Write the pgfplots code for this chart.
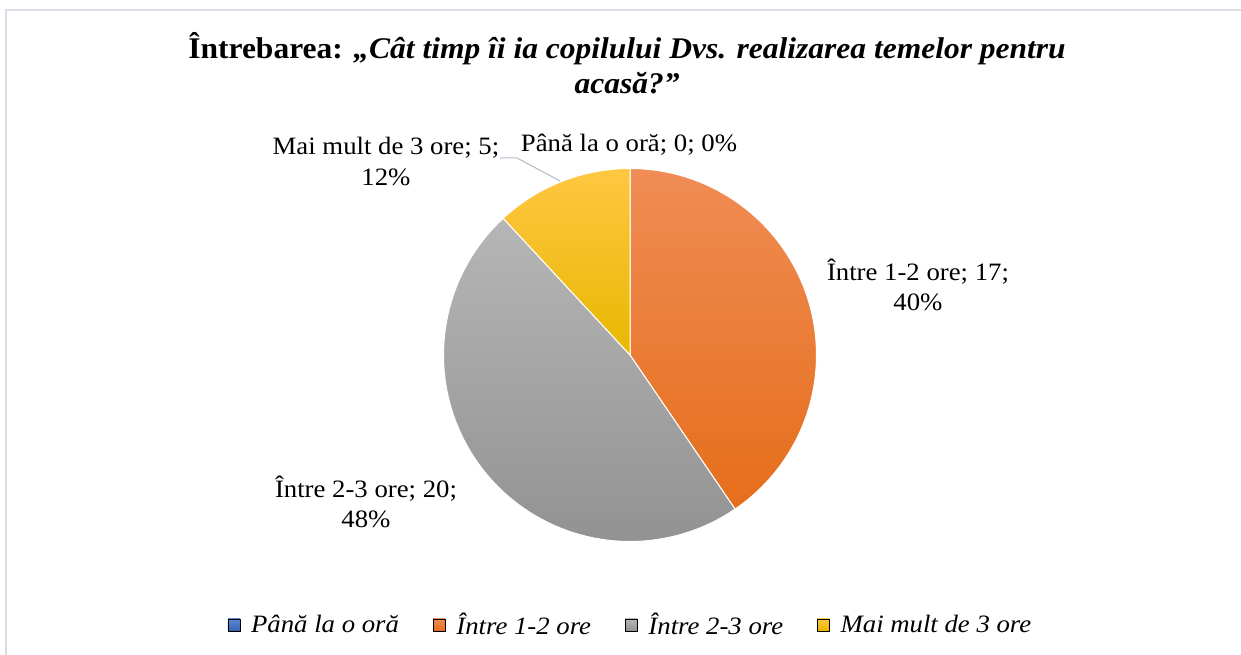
\documentclass[border=0pt]{standalone}
\usepackage{pgfplots}
\usepackage{pgfplotstable}
\pgfplotsset{compat=1.18}
\usepackage{fontspec}
\setmainfont{Liberation Serif}
\newfontfamily\lblfont[FakeStretch=1.07]{Liberation Serif}
\newfontfamily\ttlfont[FakeStretch=1.05]{Liberation Serif}
\definecolor{borderc}{HTML}{D9DDE8}
\definecolor{leaderc}{HTML}{B0BCCC}
\definecolor{blueT}{HTML}{5B87D2}\definecolor{blueM}{HTML}{4472C4}\definecolor{blueB}{HTML}{3A63AE}
\definecolor{orT}{HTML}{F08C55}\definecolor{orM}{HTML}{F37E2E}\definecolor{orB}{HTML}{E56E1A}
\definecolor{grT}{HTML}{B6B6B6}\definecolor{grM}{HTML}{A6A6A6}\definecolor{grB}{HTML}{929292}
\definecolor{yeT}{HTML}{FFC742}\definecolor{yeM}{HTML}{FFC000}\definecolor{yeB}{HTML}{E8B700}
\pgfplotstableread{
idx value
0 0
1 17
2 20
3 5
}\piedata
\pgfplotstablegetelem{0}{value}\of\piedata\let\va\pgfplotsretval
\pgfplotstablegetelem{1}{value}\of\piedata\let\vb\pgfplotsretval
\pgfplotstablegetelem{2}{value}\of\piedata\let\vc\pgfplotsretval
\pgfplotstablegetelem{3}{value}\of\piedata\let\vd\pgfplotsretval
\pgfmathsetmacro\tot{\va+\vb+\vc+\vd}
\pgfmathsetmacro\aA{90}
\pgfmathsetmacro\aB{\aA-360*\va/\tot}
\pgfmathsetmacro\aC{\aB-360*\vb/\tot}
\pgfmathsetmacro\aD{\aC-360*\vc/\tot}
\pgfmathsetmacro\aE{\aD-360*\vd/\tot}
\def\cx{630}\def\cy{-355}\def\R{186.5}
\newcommand\lblsize{\lblfont\fontsize{25}{29}\selectfont}
\begin{document}
\begin{tikzpicture}
\begin{axis}[
  scale only axis, width=1241pt, height=655pt,
  xmin=0, xmax=1241, ymin=-655, ymax=0,
  hide axis, clip=false,
  legend columns=4,
  legend style={at={(axis cs:631,-625)}, anchor=center, draw=none, fill=none,
    font=\lblsize\itshape,
    /tikz/every odd column/.append style={column sep=8pt},
    /tikz/every even column/.append style={column sep=31pt},
    nodes={inner xsep=3pt}},
]
\coordinate (BL) at (axis cs:0,-655);
\coordinate (TR) at (axis cs:1241,0);
% slices
\addplot[forget plot, draw=white, line width=1pt, top color=orT, middle color=orM, bottom color=orB,
  domain=\aC:\aB, samples=80, variable=\t]
  ({\cx+\R*cos(\t)},{\cy+\R*sin(\t)}) -- (axis cs:\cx,\cy) -- cycle;
\addplot[forget plot, draw=white, line width=1pt, top color=grT, middle color=grM, bottom color=grB,
  domain=\aD:\aC, samples=80, variable=\t]
  ({\cx+\R*cos(\t)},{\cy+\R*sin(\t)}) -- (axis cs:\cx,\cy) -- cycle;
\addplot[forget plot, draw=white, line width=1pt, top color=yeT, middle color=yeM, bottom color=yeB,
  domain=\aE:\aD, samples=40, variable=\t]
  ({\cx+\R*cos(\t)},{\cy+\R*sin(\t)}) -- (axis cs:\cx,\cy) -- cycle;
% legend
\addlegendimage{legend image code/.code={\fill[top color=blueT, bottom color=blueB] (0pt,-6pt) rectangle (12pt,6pt);}}
\addlegendentry{Până la o oră}
\addlegendimage{legend image code/.code={\fill[top color=orT, bottom color=orB] (0pt,-6pt) rectangle (12pt,6pt);}}
\addlegendentry{Între 1-2 ore}
\addlegendimage{legend image code/.code={\fill[top color=grT, bottom color=grB] (0pt,-6pt) rectangle (12pt,6pt);}}
\addlegendentry{Între 2-3 ore}
\addlegendimage{legend image code/.code={\fill[top color=yeT, bottom color=yeB] (0pt,-6pt) rectangle (12pt,6pt);}}
\addlegendentry{Mai mult de 3 ore}
% title
\node[anchor=base, font=\ttlfont\fontsize{30}{34}\selectfont\bfseries] at (axis cs:627,-59)
  {Întrebarea: \textit{„Cât timp îi ia copilului Dvs. realizarea temelor pentru}};
\node[anchor=base, font=\ttlfont\fontsize{30}{34}\selectfont\bfseries\itshape] at (axis cs:627,-94) {acasă?”};
% data labels
\draw[leaderc, line width=1pt] (axis cs:500,-158) -- (axis cs:517,-158) -- (axis cs:560,-181);
\node[anchor=base, font=\lblsize] at (axis cs:629,-152) {Până la o oră; 0; 0\%};
\node[anchor=base, font=\lblsize] at (axis cs:386,-155) {Mai mult de 3 ore; 5;};
\node[anchor=base, font=\lblsize] at (axis cs:386,-186) {12\%};
\node[anchor=base, font=\lblsize] at (axis cs:918,-281) {Între 1-2 ore; 17;};
\node[anchor=base, font=\lblsize] at (axis cs:918,-311) {40\%};
\node[anchor=base, font=\lblsize] at (axis cs:366,-498) {Între 2-3 ore; 20;};
\node[anchor=base, font=\lblsize] at (axis cs:366,-528) {48\%};
% border
\draw[borderc, line width=1.5pt] (axis cs:6,-10) rectangle (axis cs:1260,-670);
\end{axis}
\pgfresetboundingbox
\useasboundingbox (BL) rectangle (TR);
\end{tikzpicture}
\end{document}
